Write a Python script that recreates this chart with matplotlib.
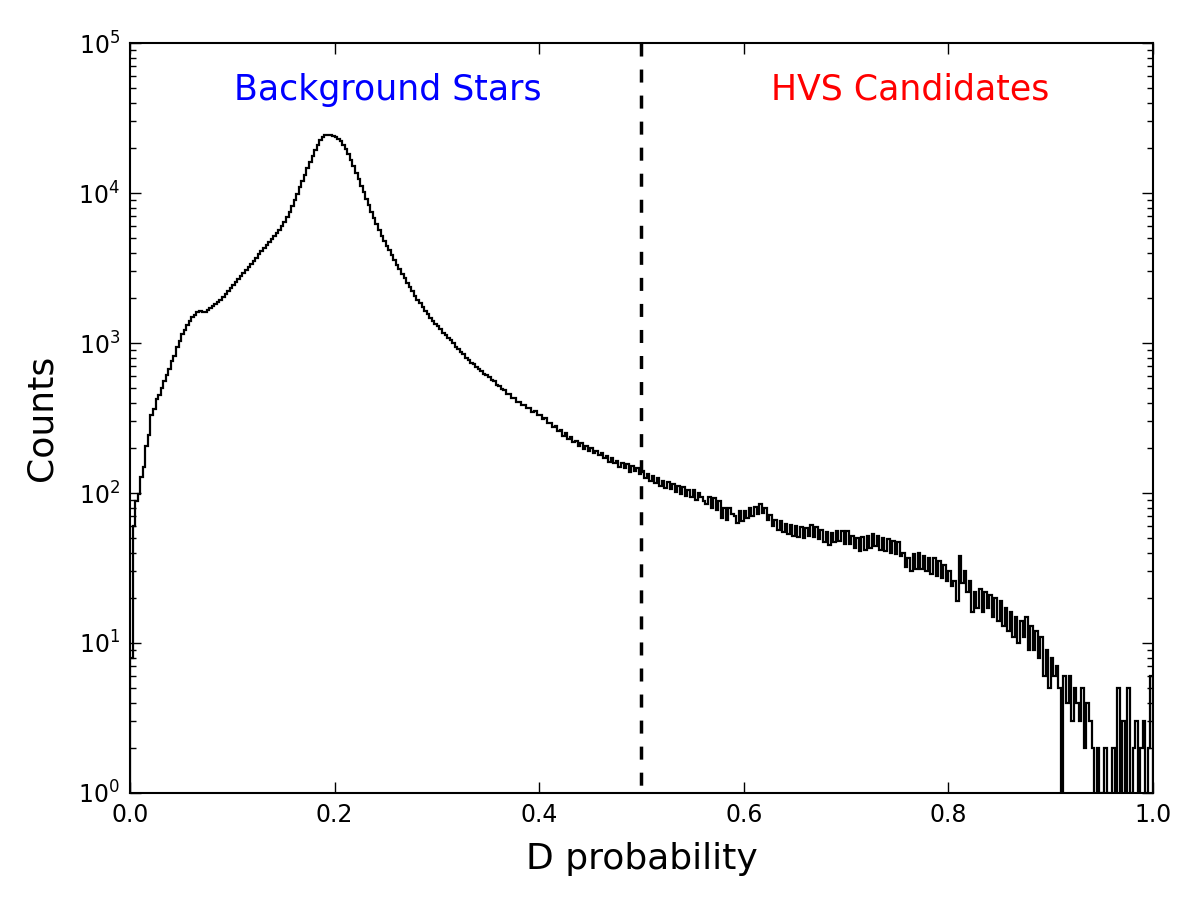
import matplotlib
matplotlib.use("Agg")
import matplotlib.pyplot as plt
import numpy as np

from matplotlib.ticker import FormatStrFormatter, LogLocator

# histogram of D probability, 400 bins of width 0.0025 (counts)
bin_edges = np.linspace(0.0, 1.0, 401)
counts = [
    8, 60, 88, 98, 128, 148, 205, 245, 330, 365, 425, 450, 505, 555, 610, 675, 760, 825, 940, 1030,
    1150, 1230, 1310, 1400, 1480, 1540, 1600, 1640, 1610, 1620, 1660, 1700, 1760, 1810, 1880, 1950, 2040, 2120, 2230, 2330,
    2450, 2570, 2690, 2810, 2950, 3080, 3230, 3380, 3540, 3710, 3900, 4100, 4310, 4520, 4740, 4970, 5200, 5420, 5700, 6000,
    6400, 6900, 7500, 8200, 9000, 9900, 10900, 12000, 13200, 14600, 16000, 17700, 19300, 21000, 22500, 23600, 24200, 24300, 24200, 24000,
    23600, 23000, 22200, 21000, 19700, 18200, 16700, 15100, 13700, 12400, 11200, 10100, 9100, 8300, 7500, 6800, 6200, 5700, 5200, 4800,
    4450, 4150, 3850, 3580, 3330, 3100, 2890, 2700, 2520, 2360, 2210, 2070, 1950, 1840, 1730, 1640, 1550, 1470, 1400, 1340,
    1295, 1235, 1175, 1135, 1075, 1040, 995, 945, 915, 870, 845, 800, 775, 740, 725, 690, 672, 655, 625, 612,
    595, 565, 556, 522, 514, 490, 484, 458, 455, 432, 430, 405, 404, 385, 386, 366, 370, 348, 350, 330,
    330, 312, 314, 292, 295, 276, 280, 258, 262, 240, 250, 228, 238, 220, 222, 207, 214, 198, 206, 192,
    200, 186, 192, 178, 184, 170, 176, 162, 171, 158, 164, 150, 158, 146, 156, 138, 152, 140, 146, 133,
    140, 126, 134, 120, 130, 116, 126, 112, 121, 108, 118, 106, 115, 102, 112, 98, 109, 96, 104, 94,
    104, 90, 100, 94, 88, 84, 94, 80, 92, 77, 88, 68, 79, 66, 80, 72, 70, 63, 76, 65,
    76, 68, 79, 70, 81, 72, 85, 74, 80, 66, 71, 60, 66, 57, 65, 55, 62, 53, 61, 52,
    60, 51, 59, 50, 58, 52, 61, 51, 59, 49, 57, 47, 55, 45, 54, 47, 56, 48, 56, 46,
    56, 46, 52, 43, 50, 41, 51, 42, 52, 43, 53, 44, 52, 42, 50, 41, 49, 40, 48, 39,
    47, 38, 40, 32, 37, 30, 39, 31, 40, 31, 38, 30, 37, 29, 37, 28, 35, 27, 33, 26,
    30, 24, 26, 19, 38, 25, 30, 22, 26, 16, 22, 17, 23, 16, 22, 17, 21, 15, 20, 14,
    19, 13, 17, 12, 16, 11, 15, 10, 14, 11, 15, 9, 13, 9, 12, 8, 11, 6, 9, 5,
    8, 6, 7, 5, 0, 6, 4, 6, 3, 5, 4, 3, 5, 2, 4, 3, 2, 0, 2, 1,
    0, 2, 1, 0, 2, 0, 5, 1, 3, 0, 5, 1, 2, 3, 1, 2, 3, 1, 2, 6,
]
cut = 0.5

plt.rcParams["font.family"] = ["DejaVu Sans"]

fig = plt.figure(figsize=(12, 9), dpi=100)
ax = fig.add_axes([0.1083, 0.1189, 0.8525, 0.8333])

ax.stairs(counts, bin_edges, baseline=0, color="black", linewidth=1.6)
ax.axvline(cut, ymin=1, ymax=0, color="black", linewidth=2.5,
           linestyle=(0, (3.75, 3.75)))

ax.set_yscale("log")
ax.set_xlim(0, 1)
ax.set_ylim(1, 1e5)

ax.text(0.252, 4.2e4, "Background Stars", color="#0000ff", fontsize=25,
        ha="center", va="baseline")
ax.text(0.763, 4.2e4, "HVS Candidates", color="#ff0000", fontsize=25,
        ha="center", va="baseline")

ax.set_xlabel("D probability", fontsize=26, labelpad=11)
ax.set_ylabel("Counts", fontsize=26, labelpad=14)

ax.set_xticks(np.arange(0, 1.01, 0.2))
ax.xaxis.set_major_formatter(FormatStrFormatter("%.1f"))
ax.yaxis.set_major_locator(LogLocator(base=10, numticks=10))
ax.yaxis.set_minor_locator(LogLocator(base=10, subs=np.arange(2, 10), numticks=10))

ax.tick_params(which="both", direction="in", top=True, right=True, labelsize=17)
ax.tick_params(which="major", length=8, width=1, pad=7)
ax.tick_params(which="minor", length=4, width=1)
for s in ax.spines.values():
    s.set_linewidth(1.5)

plt.savefig("out.png", dpi=100)
